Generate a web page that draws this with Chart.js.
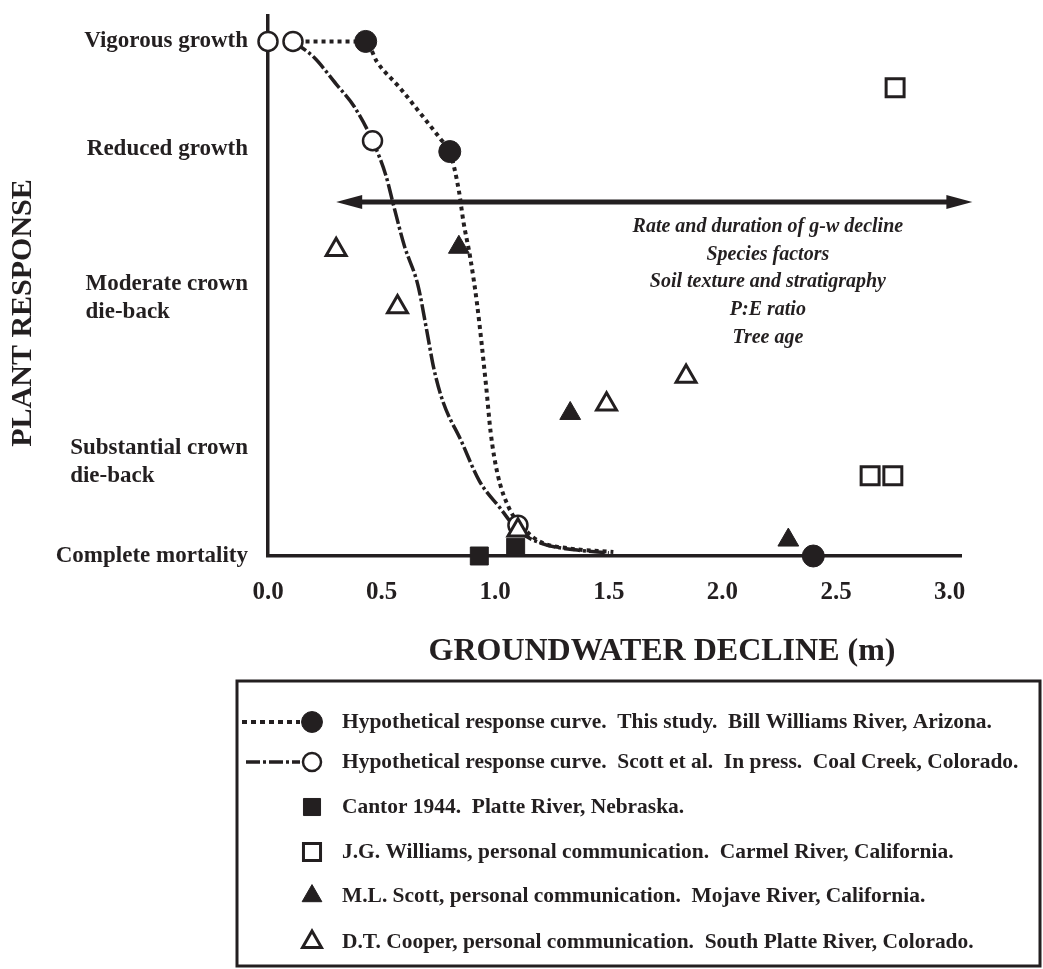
<!DOCTYPE html>
<html><head><meta charset="utf-8">
<script src="https://cdn.jsdelivr.net/npm/chart.js@4/dist/chart.umd.min.js"></script>
<style>html,body{margin:0;padding:0;background:#fff;}#wrap{width:1043px;height:969px;position:relative;}</style>
</head><body><div id="wrap"><canvas id="c" width="1043" height="969"></canvas></div>
<script>
const INK = '#231f20';
const SERIF = '"Liberation Serif", "Times New Roman", serif';

// axes
const xTickValues = [0, 0.5, 1.0, 1.5, 2.0, 2.5, 3.0];
const xTickLabels = ['0.0', '0.5', '1.0', '1.5', '2.0', '2.5', '3.0'];
const yTickValues = [0, 18.3, 50.1, 79, 100];
const yTickLabels = [['Complete mortality'], ['Substantial crown', 'die-back'], ['Moderate crown', 'die-back'], ['Reduced growth'], ['Vigorous growth']];
const xTitle = 'GROUNDWATER DECLINE (m)';
const yTitle = 'PLANT RESPONSE';

// hypothetical response curve, this study (dotted)
const curveStudyX = [0.13, 0.43, 0.48, 0.58, 0.68, 0.76, 0.80, 0.84, 0.86, 0.89, 0.92, 0.96, 0.98, 1.01, 1.06, 1.12, 1.20, 1.32, 1.52];
const curveStudyY = [100, 100, 96, 91, 85.5, 81, 78.6, 71, 65, 58, 49, 33, 24, 16, 9.4, 5.6, 2.7, 1.5, 0.8];
// hypothetical response curve, Scott et al. (dash-dot)
const curveScottX = [0.11, 0.20, 0.30, 0.38, 0.46, 0.52, 0.55, 0.60, 0.66, 0.70, 0.73, 0.77, 0.85, 0.93, 1.02, 1.10, 1.20, 1.35, 1.50];
const curveScottY = [100, 97, 91.7, 87.3, 80.7, 73.8, 68.6, 60.3, 52.6, 43.5, 36.4, 30, 22.4, 14.6, 9.4, 5, 2.5, 1.2, 0.6];

// observations
const filledCircleX = [0.43, 0.80, 2.40];
const filledCircleY = [100, 78.6, 0];
const openCircleX = [0.0, 0.11, 0.46, 1.10];
const openCircleY = [100, 100, 80.7, 6];
const filledSquareX = [0.93, 1.09];
const filledSquareY = [0, 1.7];
const openSquareX = [2.76, 2.65, 2.75];
const openSquareY = [91, 15.6, 15.6];
const filledTriX = [0.84, 1.33, 2.29];
const filledTriY = [60, 27.7, 3.1];
const openTriX = [0.30, 0.57, 1.49, 1.84, 1.10];
const openTriY = [59.5, 48.4, 29.5, 34.9, 5];

// annotation
const arrowX = [0.30, 3.10];
const arrowY = 68.8;
const noteLines = ['Rate and duration of g-w decline', 'Species factors', 'Soil texture and stratigraphy', 'P:E ratio', 'Tree age'];
const noteX = 2.20;
const noteY = 64;

// legend
const legendLabels = [
  'Hypothetical response curve.  This study.  Bill Williams River, Arizona.',
  'Hypothetical response curve.  Scott et al.  In press.  Coal Creek, Colorado.',
  'Cantor 1944.  Platte River, Nebraska.',
  'J.G. Williams, personal communication.  Carmel River, California.',
  'M.L. Scott, personal communication.  Mojave River, California.',
  'D.T. Cooper, personal communication.  South Platte River, Colorado.'
];

const pts = (xs, ys) => xs.map((x, i) => ({x: x, y: ys[i]}));

const markerStyles = {
  filledCircle: {pointStyle: 'circle', radius: 11, backgroundColor: INK, borderColor: INK, borderWidth: 1},
  openCircle: {pointStyle: 'circle', radius: 9.5, backgroundColor: '#fff', borderColor: INK, borderWidth: 2.5},
  filledSquare: {pointStyle: 'rect', radius: 12.7, backgroundColor: INK, borderColor: INK, borderWidth: 1},
  openSquare: {pointStyle: 'rect', radius: 12.7, backgroundColor: '#fff', borderColor: INK, borderWidth: 3},
  filledTri: {pointStyle: 'triangle', radius: 12, backgroundColor: INK, borderColor: INK, borderWidth: 1},
  openTri: {pointStyle: 'triangle', radius: 11.5, backgroundColor: '#fff', borderColor: INK, borderWidth: 3}
};

function markerDataset(label, data, st, ord) {
  return {label: label, data: data, showLine: false, order: ord, clip: false,
    pointStyle: st.pointStyle, pointRadius: st.radius, pointHoverRadius: st.radius,
    pointBackgroundColor: st.backgroundColor, pointBorderColor: st.borderColor, pointBorderWidth: st.borderWidth,
    backgroundColor: st.backgroundColor, borderColor: st.borderColor};
}

const overlay = {
  id: 'overlay',
  afterDraw(chart) {
    const ctx = chart.ctx;
    const xs = chart.scales.x, ys = chart.scales.y;
    ctx.save();
    ctx.fillStyle = INK; ctx.strokeStyle = INK;

    // y tick labels (multi-line blocks left aligned, right edge fixed)
    ctx.font = 'bold 23px ' + SERIF;
    ctx.textBaseline = 'middle'; ctx.textAlign = 'left';
    const right = ys.right - 20, lh = 28;
    yTickValues.forEach((v, i) => {
      const lines = yTickLabels[i];
      const w = Math.max(...lines.map(l => ctx.measureText(l).width));
      const yc = ys.getPixelForValue(v);
      lines.forEach((l, k) => ctx.fillText(l, right - w, yc - (lines.length - 1) * lh / 2 + k * lh));
    });

    // axis titles
    ctx.textAlign = 'center';
    ctx.font = 'bold 32px ' + SERIF;
    ctx.fillText(xTitle, 662, 652);
    ctx.save();
    ctx.translate(23, 313); ctx.rotate(-Math.PI / 2);
    ctx.font = 'bold 30px ' + SERIF;
    ctx.fillText(yTitle, 0, 0);
    ctx.restore();

    // double arrow
    const ax0 = xs.getPixelForValue(arrowX[0]), ax1 = xs.getPixelForValue(arrowX[1]);
    const ay = ys.getPixelForValue(arrowY);
    ctx.lineWidth = 5;
    ctx.beginPath(); ctx.moveTo(ax0 + 15, ay); ctx.lineTo(ax1 - 15, ay); ctx.stroke();
    ctx.beginPath(); ctx.moveTo(ax0, ay); ctx.lineTo(ax0 + 26, ay - 7); ctx.lineTo(ax0 + 26, ay + 7); ctx.closePath(); ctx.fill();
    ctx.beginPath(); ctx.moveTo(ax1, ay); ctx.lineTo(ax1 - 26, ay - 7); ctx.lineTo(ax1 - 26, ay + 7); ctx.closePath(); ctx.fill();

    // note text
    ctx.font = 'italic bold 20px ' + SERIF;
    const nx = xs.getPixelForValue(noteX), ny = ys.getPixelForValue(noteY);
    noteLines.forEach((l, k) => ctx.fillText(l, nx, ny + k * 27.7));

    // legend box
    ctx.lineWidth = 3;
    ctx.strokeRect(237, 681, 803, 285);
    const rowY = [722, 762, 807, 852, 896, 942];
    const symX = 312, txtX = 342;
    ctx.textAlign = 'left';
    ctx.font = 'bold 20px ' + SERIF;
    const sc = 650 / ctx.measureText(legendLabels[0]).width;
    ctx.font = 'bold ' + (20 * sc).toFixed(2) + 'px ' + SERIF;
    legendLabels.forEach((l, i) => ctx.fillText(l, txtX, rowY[i]));
    // line samples
    ctx.lineWidth = 4; ctx.setLineDash([5, 4]);
    ctx.beginPath(); ctx.moveTo(242, rowY[0]); ctx.lineTo(300, rowY[0]); ctx.stroke();
    ctx.lineWidth = 3.5; ctx.setLineDash([14, 3, 3, 3]);
    ctx.beginPath(); ctx.moveTo(246, rowY[1]); ctx.lineTo(300, rowY[1]); ctx.stroke();
    ctx.setLineDash([]);
    const order = ['filledCircle', 'openCircle', 'filledSquare', 'openSquare', 'filledTri', 'openTri'];
    order.forEach((k, i) => {
      const st = markerStyles[k];
      ctx.fillStyle = st.backgroundColor; ctx.strokeStyle = st.borderColor; ctx.lineWidth = st.borderWidth;
      Chart.helpers.drawPoint(ctx, {pointStyle: st.pointStyle, radius: st.radius * 0.95, rotation: 0, borderWidth: st.borderWidth}, symX, rowY[i]);
    });
    ctx.restore();
  }
};

new Chart(document.getElementById('c'), {
  type: 'scatter',
  data: {
    datasets: [
      {label: legendLabels[0] + ' curve', data: pts(curveStudyX, curveStudyY), showLine: true, order: 10, clip: false,
        borderColor: INK, borderWidth: 4, borderDash: [4, 4], borderCapStyle: 'butt', pointRadius: 0, cubicInterpolationMode: 'monotone'},
      {label: legendLabels[1] + ' curve', data: pts(curveScottX, curveScottY), showLine: true, order: 10, clip: false,
        borderColor: INK, borderWidth: 3.5, borderDash: [16, 3, 3, 3], pointRadius: 0, cubicInterpolationMode: 'monotone'},
      markerDataset(legendLabels[0], pts(filledCircleX, filledCircleY), markerStyles.filledCircle, 1),
      markerDataset(legendLabels[1], pts(openCircleX, openCircleY), markerStyles.openCircle, 1),
      markerDataset(legendLabels[2], pts(filledSquareX, filledSquareY), markerStyles.filledSquare, 1),
      markerDataset(legendLabels[3], pts(openSquareX, openSquareY), markerStyles.openSquare, 1),
      markerDataset(legendLabels[4], pts(filledTriX, filledTriY), markerStyles.filledTri, 1),
      markerDataset(legendLabels[5], pts(openTriX, openTriY), markerStyles.openTri, 0)
    ]
  },
  options: {
    responsive: false, animation: false, devicePixelRatio: 1,
    layout: {padding: {top: 11, left: 0, right: 82, bottom: 343}},
    plugins: {legend: {display: false}, tooltip: {enabled: false}, title: {display: false}},
    scales: {
      x: {type: 'linear', min: 0, max: 3.05, clip: false,
        afterBuildTicks: s => { s.ticks = xTickValues.map(v => ({value: v})); },
        afterFit: s => { s.height = 70; },
        grid: {display: false, drawTicks: false},
        border: {display: true, color: INK, width: 3.5},
        ticks: {padding: 22, color: INK, font: {family: SERIF, size: 25, weight: 'bold'},
          callback: (v) => xTickLabels[xTickValues.indexOf(v)] ?? ''}},
      y: {type: 'linear', min: 0, max: 105,
        afterBuildTicks: s => { s.ticks = yTickValues.map(v => ({value: v})); },
        afterFit: s => { s.width = 268; },
        grid: {display: false, drawTicks: false},
        border: {display: true, color: INK, width: 3.5},
        ticks: {display: false}}
    }
  },
  plugins: [overlay]
});
</script></body></html>
